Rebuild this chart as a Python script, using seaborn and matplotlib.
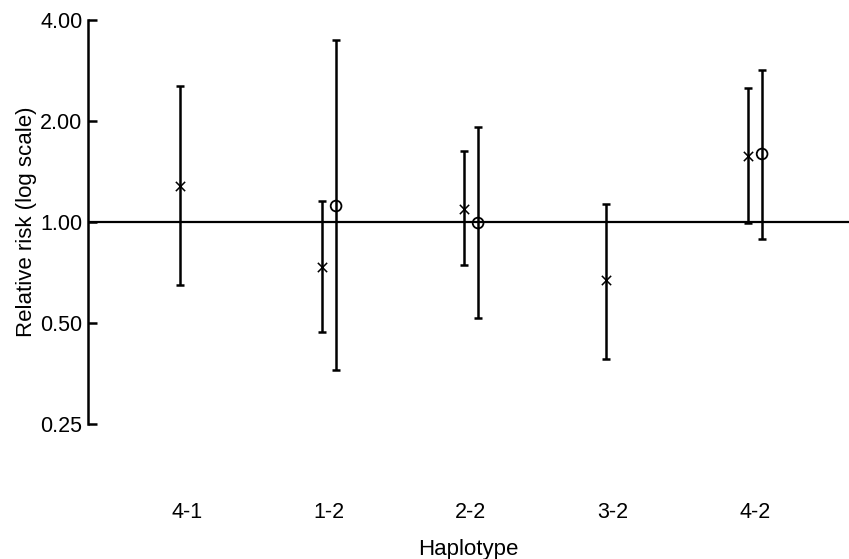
import numpy as np
import pandas as pd
import matplotlib
matplotlib.use("Agg")
import matplotlib.pyplot as plt
import seaborn as sns

# Data
haplotypes = ["4-1", "1-2", "2-2", "3-2", "4-2"]

# Series "x"
x_rr = [1.28, 0.734, 1.093, 0.672, 1.573]
x_lo = [0.649, 0.47, 0.744, 0.39, 0.993]
x_hi = [2.54, 1.155, 1.628, 1.131, 2.51]

# Series "o" (only for some haplotypes)
o_hap = ["1-2", "2-2", "4-2"]
o_rr = [1.116, 0.993, 1.595]
o_lo = [0.362, 0.518, 0.89]
o_hi = [3.49, 1.92, 2.84]

yticks = [0.25, 0.5, 1.0, 2.0, 4.0]
ytick_labels = ["0.25", "0.50", "1.00", "2.00", "4.00"]

sns.set_theme(style="white")
plt.rcParams['font.family'] = ['Liberation Sans', 'DejaVu Sans']

idx = {h: i for i, h in enumerate(haplotypes)}
off = 0.05
df_x = pd.DataFrame({"hap": haplotypes, "rr": x_rr, "lo": x_lo, "hi": x_hi,
                     "pos": [idx[h] - off for h in haplotypes]})
df_o = pd.DataFrame({"hap": o_hap, "rr": o_rr, "lo": o_lo, "hi": o_hi,
                     "pos": [idx[h] + off for h in o_hap]})

fig = plt.figure(figsize=(8.49, 5.59), dpi=100)
ax = fig.add_axes([88/849, (559-424)/559, 1 - 88/849, (424-20)/559])

ax.axhline(1.0, color="black", lw=1.6, zorder=1)
for d in (df_x, df_o):
    ax.errorbar(d["pos"], d["rr"], yerr=[d["rr"] - d["lo"], d["hi"] - d["rr"]],
                fmt="none", ecolor="black", elinewidth=1.8, capsize=3.2, capthick=1.8,
                zorder=2, clip_on=False)

sns.scatterplot(data=df_x, x="pos", y="rr", marker="x", s=45, color="black",
                linewidth=1.1, ax=ax, legend=False, zorder=4)
sns.scatterplot(data=df_o, x="pos", y="rr", marker="o", s=60, facecolor="none",
                edgecolor="black", linewidth=1.3, ax=ax, legend=False, zorder=4)

ax.set_yscale("log")
ax.set_ylim(0.25, 4.0)
ax.set_xlim(-0.697, 4.662)
ax.set_yticks(yticks)
ax.set_yticklabels(ytick_labels)
ax.yaxis.set_minor_locator(matplotlib.ticker.NullLocator())
ax.set_xticks(range(len(haplotypes)))
ax.set_xticklabels(haplotypes)

for s in ["top", "right", "bottom"]:
    ax.spines[s].set_visible(False)
ax.spines["left"].set_linewidth(1.8)
ax.spines["left"].set_color("black")
ax.tick_params(axis="y", direction="in", length=6.5, width=1.8, colors="black",
               labelsize=15.5, pad=4, left=True)
ax.tick_params(axis="x", length=0, labelsize=15.5, pad=56, colors="black")

ax.set_xlabel("Haplotype", fontsize=16, color="black", labelpad=12)
ax.set_ylabel("Relative risk (log scale)", fontsize=16, color="black", labelpad=2)

fig.savefig("out.png", dpi=100)
